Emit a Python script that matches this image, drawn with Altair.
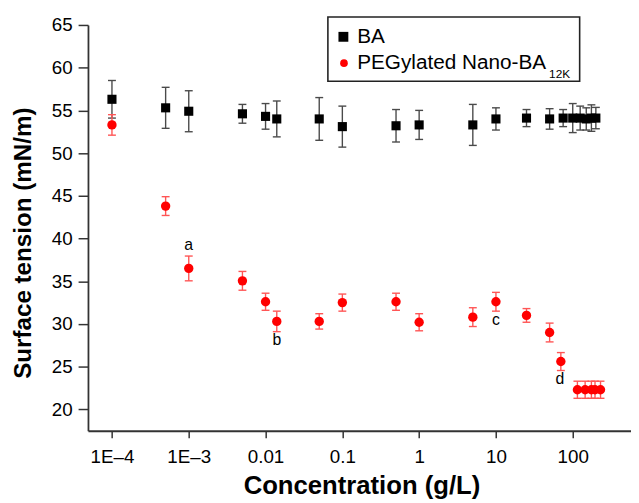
import altair as alt
import pandas as pd

# ---------------- data ----------------
ba_conc = [1e-4, 5e-4, 1e-3, 5e-3, 0.01, 0.014, 0.05, 0.1, 0.5, 1, 5, 10, 25, 50, 75,
           100, 125, 150, 175, 200]
ba_st = [56.3, 55.3, 54.9, 54.6, 54.3, 54.0, 54.0, 53.1, 53.2, 53.3, 53.3, 54.0, 54.1,
         54.0, 54.1, 54.1, 54.1, 54.0, 54.1, 54.1]
ba_err = [2.2, 2.4, 2.4, 1.1, 1.5, 2.1, 2.5, 2.4, 1.9, 1.7, 2.4, 1.3, 1.0, 1.2, 1.0,
          1.7, 1.4, 1.3, 1.55, 1.25]

peg_conc = [1e-4, 5e-4, 1e-3, 5e-3, 0.01, 0.014, 0.05, 0.1, 0.5, 1, 5, 10, 25, 50, 70,
            115, 145, 175, 195, 230]
peg_st = [53.3, 43.8, 36.5, 35.05, 32.6, 30.3, 30.3, 32.5, 32.6, 30.2, 30.8, 32.6, 31.0,
          29.0, 25.6, 22.3, 22.3, 22.3, 22.3, 22.3]
peg_err = [1.2, 1.1, 1.45, 1.1, 1.0, 1.2, 0.9, 1.0, 1.0, 1.0, 1.1, 1.1, 0.8, 1.1, 1.05,
           1.0, 1.0, 1.0, 1.0, 1.0]

note_text = ["a", "b", "c", "d"]
note_conc = [1e-3, 0.014, 10, 68]
note_st = [39.2, 28.15, 30.45, 23.5]

x_tick_values = [1e-4, 1e-3, 1e-2, 1e-1, 1, 10, 100]
x_tick_labels = ["1E\u20134", "1E\u20133", "0.01", "0.1", "1", "10", "100"]
y_tick_values = [20, 25, 30, 35, 40, 45, 50, 55, 60, 65]

legend_labels = ["BA", "PEGylated Nano-BA"]
legend_sub = "12K"

x_title = "Concentration (g/L)"
y_title = "Surface tension (mN/m)"

FONT = "Liberation Sans"

# ---------------- tables ----------------
def table(conc, st, err):
    return pd.DataFrame({
        "conc": conc,
        "st": st,
        "lo": [s - e for s, e in zip(st, err)],
        "hi": [s + e for s, e in zip(st, err)],
    })

ba = table(ba_conc, ba_st, ba_err)
peg = table(peg_conc, peg_st, peg_err)
notes = pd.DataFrame({"conc": note_conc, "st": note_st, "t": note_text})

label_js = "[" + ",".join("'" + s + "'" for s in x_tick_labels) + "]"

x_scale = alt.Scale(type="log", domain=[4.872e-5, 573.6], nice=False)
y_scale = alt.Scale(domain=[17.5, 65], nice=False, zero=False)

x_axis = alt.Axis(
    values=x_tick_values,
    labelExpr=label_js + "[round(log(datum.value)/LN10)+4]",
    labelFont=FONT, labelFontSize=19, labelColor="#000",
    labelBaseline="alphabetic", labelPadding=25,
    tickSize=7, tickWidth=1.5, tickColor="#333",
    domainColor="#333", domainWidth=1.8, grid=False,
    title=x_title, titleFont=FONT, titleFontSize=26, titleFontWeight="bold",
    titleColor="#000", titleX=277, titleY=64, titleBaseline="alphabetic",
    titleAlign="center",
)
y_axis = alt.Axis(
    values=y_tick_values,
    labelFont=FONT, labelFontSize=19, labelColor="#000", labelPadding=6,
    tickSize=10, tickWidth=1.5, tickColor="#333",
    domainColor="#333", domainWidth=1.8, grid=False,
    title=y_title, titleFont=FONT, titleFontSize=24.5, titleFontWeight="bold",
    titleColor="#000", titleX=-58, titleY=220.5, titleAngle=270,
    titleBaseline="alphabetic", titleAlign="center",
)

X = alt.X("conc:Q", scale=x_scale, axis=x_axis)
X2 = alt.X2("conc")


def series(df, err_color, point_mark):
    base = alt.Chart(df)
    bars = base.mark_rule(color=err_color, strokeWidth=1.4).encode(
        x=X, y=alt.Y("lo:Q", scale=y_scale, axis=y_axis), y2="hi:Q")
    cap_lo = base.mark_rule(color=err_color, strokeWidth=1.4, xOffset=-4, x2Offset=4).encode(
        x=X, x2=X2, y=alt.Y("lo:Q", scale=y_scale, axis=y_axis))
    cap_hi = base.mark_rule(color=err_color, strokeWidth=1.4, xOffset=-4, x2Offset=4).encode(
        x=X, x2=X2, y=alt.Y("hi:Q", scale=y_scale, axis=y_axis))
    pts = point_mark(base).encode(x=X, y=alt.Y("st:Q", scale=y_scale, axis=y_axis))
    return [bars, cap_lo, cap_hi, pts]


ba_layers = series(ba, "#4a4a4a",
                   lambda b: b.mark_square(size=85, color="#000", opacity=1))
peg_layers = series(peg, "#ff5555",
                    lambda b: b.mark_circle(size=90, color="#ff0000", opacity=1))

note_layer = alt.Chart(notes).mark_text(
    font=FONT, fontSize=16, color="#000", baseline="middle", align="center"
).encode(x=X, y=alt.Y("st:Q", scale=y_scale, axis=y_axis), text="t:N")

# ---------------- legend (drawn by hand for the subscript) ----------------
one = pd.DataFrame({"k": [0]})
leg_box = alt.Chart(one).mark_rect(
    fill="#fff", stroke="#222", strokeWidth=1.6
).encode(x=alt.value(243), x2=alt.value(498), y=alt.value(-8), y2=alt.value(57))
leg_sq = alt.Chart(one).mark_square(size=100, color="#000", opacity=1).encode(
    x=alt.value(258.7), y=alt.value(12))
leg_ci = alt.Chart(one).mark_circle(size=60, color="#ff0000", opacity=1).encode(
    x=alt.value(259.3), y=alt.value(38.7))
leg_t1 = alt.Chart(one).mark_text(
    font=FONT, fontSize=21, align="left", baseline="alphabetic", color="#000",
    text=legend_labels[0]).encode(x=alt.value(272.7), y=alt.value(18.7))
leg_t2 = alt.Chart(one).mark_text(
    font=FONT, fontSize=21, align="left", baseline="alphabetic", color="#000",
    text=legend_labels[1]).encode(x=alt.value(272.7), y=alt.value(44.7))
leg_t3 = alt.Chart(one).mark_text(
    font=FONT, fontSize=12, align="left", baseline="alphabetic", color="#000",
    text=legend_sub).encode(x=alt.value(467), y=alt.value(54))

chart = alt.layer(
    *ba_layers, *peg_layers, note_layer,
    leg_box, leg_sq, leg_ci, leg_t1, leg_t2, leg_t3,
).properties(
    width=550, height=411,
    autosize=alt.AutoSizeParams(type="none"),
    padding={"left": 81, "top": 14, "right": 0, "bottom": 70},
    background="#ffffff",
).configure_view(stroke=None)

chart.save("out.html", embed_options={"renderer": "svg", "actions": False})
